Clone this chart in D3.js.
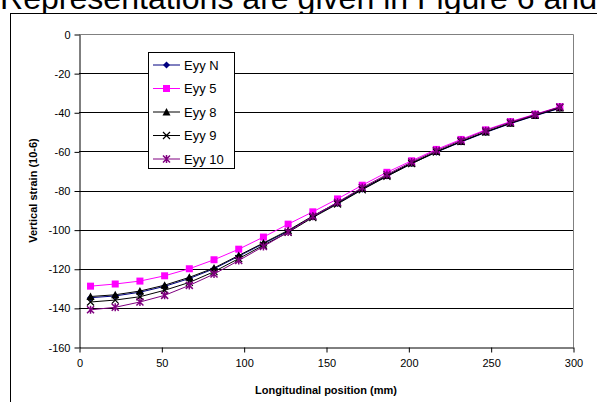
<!DOCTYPE html>
<html>
<head>
<meta charset="utf-8">
<script src="https://cdn.jsdelivr.net/npm/d3@7"></script>
<style>
  body { margin: 0; background: #fff; }
  svg { display: block; font-family: "Liberation Sans", Arial, sans-serif; }
</style>
</head>
<body>
<div id="chart"></div>
<script>
// longitudinal positions (mm)
const positions = [7, 22, 37, 52, 67, 82, 97, 112, 127, 142, 157, 172, 187, 202, 217, 232, 247, 262, 277, 292];

// vertical strain values (10-6) per gauge series
const eyyN  = [-134.8, -133.9, -132, -129, -125, -120, -113.6, -107.2, -100.8, -93.4, -86.6, -79.4, -72.6, -66.2, -60.4, -55.2, -50.3, -45.8, -41.8, -38];
const eyy5  = [-128.9, -127.8, -126.3, -123.6, -120, -115.4, -110, -103.8, -97.2, -90.9, -84.3, -77.3, -70.7, -64.8, -59, -53.9, -49, -44.8, -41, -37.2];
const eyy8  = [-134.2, -133.3, -131.4, -128.4, -124.4, -119.6, -113.2, -106.8, -100.4, -93, -86.2, -79, -72.3, -65.9, -60.1, -54.9, -50.1, -45.6, -41.6, -37.8];
const eyy9  = [-137, -136, -134.3, -131, -127, -121.5, -114.8, -108, -101.4, -93.8, -86.9, -79.6, -72.8, -66.3, -60.3, -55, -50, -45.5, -41.4, -37.5];
const eyy10 = [-141, -139.7, -137, -133.6, -128.5, -122.7, -115.8, -108.6, -101.2, -93.2, -86, -78.5, -71.8, -65.4, -59.6, -54.4, -49.4, -45.1, -41.2, -37.3];

const seriesNames = ["Eyy N", "Eyy 5", "Eyy 8", "Eyy 9", "Eyy 10"];
const seriesValues = [eyyN, eyy5, eyy8, eyy9, eyy10];

const xTicks = [0, 50, 100, 150, 200, 250, 300];
const yTicks = [0, -20, -40, -60, -80, -100, -120, -140, -160];

// styles for each series: colour + marker kind
const styles = [
  {color: "#000080", marker: "diamond"},
  {color: "#ff00ff", marker: "square"},
  {color: "#000000", marker: "triangle"},
  {color: "#000000", marker: "cross"},
  {color: "#800080", marker: "star"}
];

const W = 597, H = 402;
const plot = {left: 79, right: 573, top: 34, bottom: 347};

const svg = d3.select("#chart").append("svg")
    .attr("width", W)
    .attr("height", H);

// text of the document, cut off above the chart
svg.append("text")
    .attr("x", 0)
    .attr("y", 9)
    .attr("font-size", "31px")
    .attr("textLength", 597)
    .attr("lengthAdjust", "spacingAndGlyphs")
    .attr("fill", "#000")
    .text("Representations are given in Figure 6 and");

// outer chart frame
svg.append("rect")
    .attr("x", 10.5).attr("y", 13.5)
    .attr("width", 700).attr("height", 500)
    .attr("fill", "#fff")
    .attr("stroke", "#000")
    .attr("stroke-width", 1);

const x = d3.scaleLinear().domain([0, 300]).range([plot.left, plot.right]);
const y = d3.scaleLinear().domain([-160, 0]).range([plot.bottom, plot.top]);

// gridlines
svg.append("g")
  .selectAll("line")
  .data(yTicks.filter(t => t !== 0 && t !== -160))
  .enter().append("line")
    .attr("x1", plot.left).attr("x2", plot.right)
    .attr("y1", d => Math.round(y(d)) + 0.5)
    .attr("y2", d => Math.round(y(d)) + 0.5)
    .attr("stroke", "#000");

// plot area border (top and right in gray)
svg.append("path")
    .attr("d", `M${plot.left},${plot.top + 0.5}H${plot.right + 0.5}V${plot.bottom}`)
    .attr("fill", "none")
    .attr("stroke", "#808080");

// axes
const fmt = d => String(d);
const yAxis = svg.append("g")
    .attr("transform", `translate(${plot.left + 0.5},0.5)`)
    .call(d3.axisLeft(y).tickValues(yTicks).tickFormat(fmt).tickSize(5).tickSizeOuter(0).tickPadding(4));
const xAxis = svg.append("g")
    .attr("transform", `translate(0.5,${plot.bottom + 0.5})`)
    .call(d3.axisBottom(x).tickValues(xTicks).tickFormat(fmt).tickSize(5).tickSizeOuter(0).tickPadding(7));

[xAxis, yAxis].forEach(a => {
  a.selectAll("path, line").attr("stroke", "#000");
  a.selectAll("text").attr("font-size", "11px").attr("fill", "#000")
    .attr("font-family", "Liberation Sans, Arial, sans-serif");
});

// axis titles
svg.append("text")
    .attr("x", (plot.left + plot.right) / 2)
    .attr("y", 394)
    .attr("text-anchor", "middle")
    .attr("font-size", "11px")
    .attr("font-weight", "bold")
    .text("Longitudinal position (mm)");

svg.append("text")
    .attr("transform", `translate(37,${(plot.top + plot.bottom) / 2}) rotate(-90)`)
    .attr("text-anchor", "middle")
    .attr("font-size", "11px")
    .attr("font-weight", "bold")
    .text("Vertical strain (10-6)");

// marker drawing
function drawMarker(g, kind, color) {
  if (kind === "diamond") {
    g.append("path").attr("d", "M0,-3.5L3.5,0L0,3.5L-3.5,0Z").attr("fill", color);
  } else if (kind === "square") {
    g.append("rect").attr("x", -3.5).attr("y", -3.5).attr("width", 7).attr("height", 7).attr("fill", color);
  } else if (kind === "triangle") {
    g.append("path").attr("d", "M0,-4L4,3.5L-4,3.5Z").attr("fill", color);
  } else if (kind === "cross") {
    g.append("path").attr("d", "M-3.5,-3.5L3.5,3.5M-3.5,3.5L3.5,-3.5").attr("stroke", color).attr("stroke-width", 1.2);
  } else if (kind === "star") {
    g.append("path").attr("d", "M-3.5,-3.5L3.5,3.5M-3.5,3.5L3.5,-3.5M0,-4L0,4").attr("stroke", color).attr("stroke-width", 1.5);
  }
}

const line = d3.line().x(d => x(d[0])).y(d => y(d[1]));

seriesValues.forEach((vals, i) => {
  const pts = positions.map((p, j) => [p, vals[j]]);
  const st = styles[i];
  const g = svg.append("g");
  g.append("path")
      .datum(pts)
      .attr("d", line)
      .attr("fill", "none")
      .attr("stroke", st.color)
      .attr("stroke-width", 1);
  g.selectAll("g.m")
    .data(pts)
    .enter().append("g")
      .attr("class", "m")
      .attr("transform", d => `translate(${x(d[0])},${y(d[1])})`)
      .each(function() { drawMarker(d3.select(this), st.marker, st.color); });
});

// legend
const legend = svg.append("g").attr("transform", "translate(148,52)");
legend.append("rect")
    .attr("x", 0.5).attr("y", 0.5)
    .attr("width", 86).attr("height", 116)
    .attr("fill", "#fff")
    .attr("stroke", "#000");

seriesNames.forEach((name, i) => {
  const cy = 13 + i * 23.5;
  const row = legend.append("g").attr("transform", `translate(0,${cy})`);
  row.append("line")
      .attr("x1", 5).attr("x2", 32)
      .attr("y1", 0).attr("y2", 0)
      .attr("stroke", styles[i].color);
  drawMarker(row.append("g").attr("transform", "translate(18.5,0)"), styles[i].marker, styles[i].color);
  row.append("text")
      .attr("x", 36)
      .attr("y", 0)
      .attr("dy", "0.36em")
      .attr("font-size", "13px")
      .text(name);
});
</script>
</body>
</html>
